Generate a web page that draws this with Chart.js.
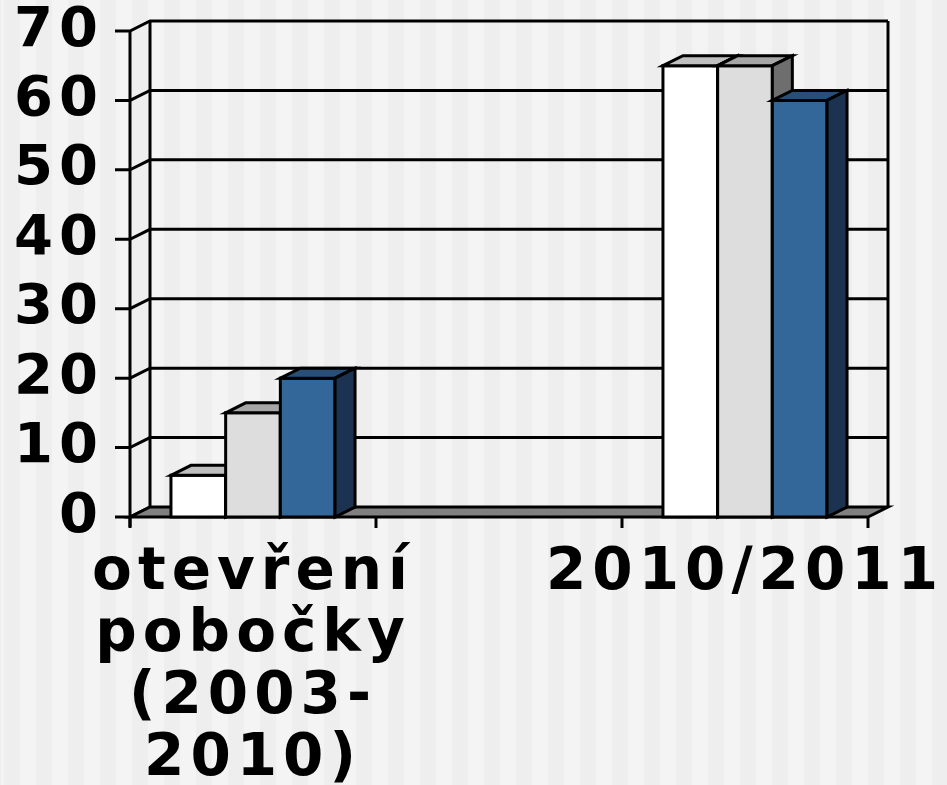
<!DOCTYPE html>
<html lang="cs">
<head>
<meta charset="UTF-8">
<title>otevření pobočky</title>
<script src="https://cdn.jsdelivr.net/npm/chart.js@4.4.1/dist/chart.umd.min.js"></script>
<style>
  html, body { margin: 0; padding: 0; }
  body {
    width: 947px; height: 785px; overflow: hidden;
    background: repeating-linear-gradient(90deg, #eeeeee 0 16px, #f4f4f4 16px 32px);
    background-position: 4px 0;
  }
  #wrap { position: relative; width: 947px; height: 785px; }
</style>
</head>
<body>
<div id="wrap"><canvas id="chart"></canvas></div>
<script>
// categories (middle one has no label and no bars)
var categories = [['otevření', 'pobočky', '(2003-', '2010)'], '', '2010/2011'];
var seriesWhite = [6, null, 65];
var seriesGray  = [15, null, 65];
var seriesBlue  = [20, null, 60];
var yTicks = [0, 10, 20, 30, 40, 50, 60, 70];

var DX = 20, DY = -10;   // depth of the 3d look
var SPACING = '6px';
var LW = 3;

var faces = [
  { front: '#ffffff', top: '#bfbfbf', side: '#9a9a9a' },
  { front: '#dddddd', top: '#a6a6a6', side: '#6e6e6e' },
  { front: '#336699', top: '#284f77', side: '#1b3350' }
];

function poly(ctx, pts, fill) {
  ctx.beginPath();
  ctx.moveTo(pts[0][0], pts[0][1]);
  for (var i = 1; i < pts.length; i++) ctx.lineTo(pts[i][0], pts[i][1]);
  ctx.closePath();
  ctx.fillStyle = fill;
  ctx.fill();
  ctx.stroke();
}

var spacingPlugin = {
  id: 'spacing',
  beforeLayout: function(chart) { chart.ctx.letterSpacing = SPACING; },
  beforeDraw: function(chart) { chart.ctx.letterSpacing = SPACING; }
};

var wallsPlugin = {
  id: 'walls',
  beforeDatasetsDraw: function(chart) {
    var ctx = chart.ctx, a = chart.chartArea;
    var y = chart.scales.y, x = chart.scales.x;
    ctx.save();
    ctx.strokeStyle = '#000';
    ctx.lineWidth = LW;
    ctx.lineJoin = 'miter';
    var top = y.getPixelForValue(70), bot = y.getPixelForValue(0);
    // back gridlines + side wall diagonals + tick marks
    yTicks.forEach(function(v) {
      var py = y.getPixelForValue(v);
      ctx.beginPath();
      ctx.moveTo(a.left - 15, py);
      ctx.lineTo(a.left, py);
      ctx.lineTo(a.left + DX, py + DY);
      if (v > 0) ctx.lineTo(a.right + DX, py + DY);
      ctx.stroke();
    });
    // back wall edges
    ctx.beginPath();
    ctx.moveTo(a.left + DX, bot + DY);
    ctx.lineTo(a.left + DX, top + DY);
    ctx.moveTo(a.right + DX, top + DY);
    ctx.lineTo(a.right + DX, bot + DY);
    ctx.moveTo(a.left, top);
    ctx.lineTo(a.left, bot + 10);
    ctx.stroke();
    // floor
    poly(ctx, [[a.left, bot], [a.left + DX, bot + DY], [a.right + DX, bot + DY], [a.right, bot]], '#808080');
    // category tick marks
    for (var i = 0; i <= categories.length; i++) {
      var px = x.getPixelForValue(i - 0.5);
      ctx.beginPath();
      ctx.moveTo(px, bot);
      ctx.lineTo(px, bot + 11);
      ctx.stroke();
    }
    ctx.restore();
  },
  afterDatasetsDraw: function(chart) {
    var ctx = chart.ctx;
    ctx.save();
    ctx.strokeStyle = '#000';
    ctx.lineWidth = LW;
    ctx.lineJoin = 'miter';
    for (var j = 0; j < categories.length; j++) {
      chart.data.datasets.forEach(function(d, i) {
        if (d.data[j] == null) return;
        var bar = chart.getDatasetMeta(i).data[j];
        var f = faces[i];
        var l = bar.x - bar.width / 2, r = bar.x + bar.width / 2;
        var t = bar.y, b = bar.base;
        poly(ctx, [[l, t], [r, t], [r, b], [l, b]], f.front);
        poly(ctx, [[l, t], [l + DX, t + DY], [r + DX, t + DY], [r, t]], f.top);
        poly(ctx, [[r, t], [r + DX, t + DY], [r + DX, b + DY], [r, b]], f.side);
      });
    }
    ctx.restore();
  }
};

function ds(data, i) {
  return {
    data: data,
    backgroundColor: faces[i].front,
    borderColor: '#000',
    borderWidth: 2,
    borderSkipped: false,
    categoryPercentage: 0.667,
    barPercentage: 1
  };
}

new Chart(document.getElementById('chart'), {
  type: 'bar',
  data: {
    labels: categories,
    datasets: [ds(seriesWhite, 0), ds(seriesGray, 1), ds(seriesBlue, 2)]
  },
  options: {
    responsive: true,
    maintainAspectRatio: false,
    animation: false,
    layout: { padding: { top: 31, right: 79, left: 0, bottom: 0 } },
    plugins: { legend: { display: false }, tooltip: { enabled: false } },
    scales: {
      x: {
        grid: { display: false },
        border: { display: false },
        ticks: {
          color: '#000',
          padding: 18,
          maxRotation: 0,
          autoSkip: false,
          font: { family: 'DejaVu Sans', weight: 'bold', size: 58, lineHeight: 1.07 }
        },
        afterFit: function(s) { s.height = 268; s.paddingLeft = 0; s.paddingRight = 0; }
      },
      y: {
        min: 0, max: 70,
        grid: { display: false },
        border: { display: false },
        ticks: {
          stepSize: 10,
          autoSkip: false,
          color: '#000',
          padding: 18,
          font: { family: 'DejaVu Sans', weight: 'bold', size: 56 }
        },
        afterFit: function(s) { s.width = 130; s.paddingTop = 0; s.paddingBottom = 0; }
      }
    }
  },
  plugins: [spacingPlugin, wallsPlugin]
});
</script>
</body>
</html>
